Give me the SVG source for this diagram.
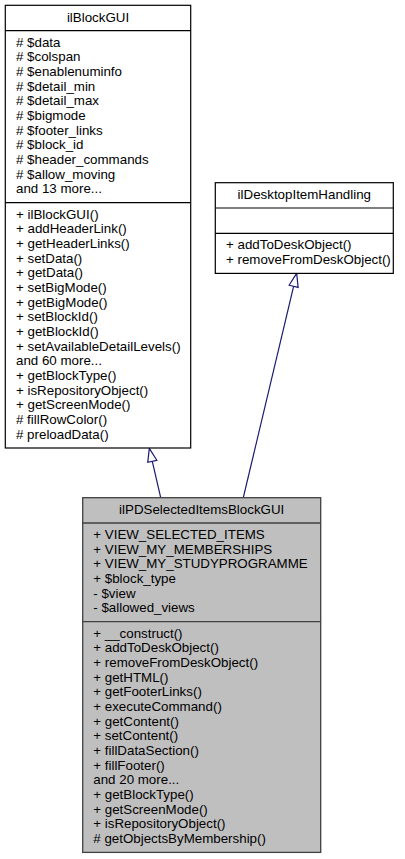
<svg xmlns="http://www.w3.org/2000/svg" width="405" height="859" viewBox="0 0 405 859">
<style>
  .box { fill: #ffffff; stroke: #000000; stroke-width: 1.2; }
  .cur { fill: #bfbfbf; stroke: #404040; stroke-width: 1.3; }
  .sep { stroke: #000000; stroke-width: 1.2; }
  .sepc { stroke: #404040; stroke-width: 1.3; }
  text { font-family: "Liberation Sans", Arial, Helvetica, sans-serif; font-size: 13.33px; fill: #000000; }
  .t { text-anchor: middle; }
  .edge { fill: none; stroke: #191970; stroke-width: 1.2; }
</style>
<defs>
  <marker id="inh" markerUnits="userSpaceOnUse" viewBox="0 0 13.33 9.33" refX="0" refY="4.67" markerWidth="13.33" markerHeight="9.33" orient="auto" overflow="visible">
    <path d="M0,0 L13.33,4.67 L0,9.33 Z" fill="#ffffff" stroke="#191970" stroke-width="1.2"/>
  </marker>
</defs>
<rect width="405" height="859" fill="#ffffff"/>
<g id="connectors">
  <path class="edge" d="M160.7,497.7 L152.3,461.3" marker-end="url(#inh)"/>
  <path class="edge" d="M243.3,497.7 L293.6,286.3" marker-end="url(#inh)"/>
</g>
<g id="ilBlockGUI">
  <rect class="box" x="5.3" y="5.3" width="185.4" height="442.7"/>
  <line class="sep" x1="5.3" y1="30.7" x2="190.7" y2="30.7"/>
  <line class="sep" x1="5.3" y1="202.7" x2="190.7" y2="202.7"/>
  <text class="t" x="98" y="21.7">ilBlockGUI</text>
  <text x="16">
    <tspan x="16" y="46.7"># $data</tspan>
    <tspan x="16" y="61.3"># $colspan</tspan>
    <tspan x="16" y="76.0"># $enablenuminfo</tspan>
    <tspan x="16" y="90.7"># $detail_min</tspan>
    <tspan x="16" y="105.3"># $detail_max</tspan>
    <tspan x="16" y="120.0"># $bigmode</tspan>
    <tspan x="16" y="134.7"># $footer_links</tspan>
    <tspan x="16" y="149.3"># $block_id</tspan>
    <tspan x="16" y="164.0"># $header_commands</tspan>
    <tspan x="16" y="178.7"># $allow_moving</tspan>
    <tspan x="16" y="193.3">and 13 more...</tspan>
  </text>
  <text x="16">
    <tspan x="16" y="218.7">+ ilBlockGUI()</tspan>
    <tspan x="16" y="233.3">+ addHeaderLink()</tspan>
    <tspan x="16" y="248.0">+ getHeaderLinks()</tspan>
    <tspan x="16" y="262.7">+ setData()</tspan>
    <tspan x="16" y="277.3">+ getData()</tspan>
    <tspan x="16" y="292.0">+ setBigMode()</tspan>
    <tspan x="16" y="306.7">+ getBigMode()</tspan>
    <tspan x="16" y="321.3">+ setBlockId()</tspan>
    <tspan x="16" y="336.0">+ getBlockId()</tspan>
    <tspan x="16" y="350.7">+ setAvailableDetailLevels()</tspan>
    <tspan x="16" y="365.3">and 60 more...</tspan>
    <tspan x="16" y="380.0">+ getBlockType()</tspan>
    <tspan x="16" y="394.7">+ isRepositoryObject()</tspan>
    <tspan x="16" y="409.3">+ getScreenMode()</tspan>
    <tspan x="16" y="424.0"># fillRowColor()</tspan>
    <tspan x="16" y="438.7"># preloadData()</tspan>
  </text>
</g>
<g id="ilDesktopItemHandling">
  <rect class="box" x="215.3" y="182.7" width="178" height="90.7"/>
  <line class="sep" x1="215.3" y1="208" x2="393.3" y2="208"/>
  <line class="sep" x1="215.3" y1="233.3" x2="393.3" y2="233.3"/>
  <text class="t" x="304.3" y="198.7">ilDesktopItemHandling</text>
  <text x="226">
    <tspan x="226" y="249.3">+ addToDeskObject()</tspan>
    <tspan x="226" y="264.0">+ removeFromDeskObject()</tspan>
  </text>
</g>
<g id="ilPDSelectedItemsBlockGUI">
  <rect class="cur" x="82.7" y="497.7" width="238" height="354.7"/>
  <line class="sepc" x1="82.7" y1="523" x2="320.7" y2="523"/>
  <line class="sepc" x1="82.7" y1="621.7" x2="320.7" y2="621.7"/>
  <text class="t" x="201.7" y="513.7">ilPDSelectedItemsBlockGUI</text>
  <text x="93.3">
    <tspan x="93.3" y="539.0">+ VIEW_SELECTED_ITEMS</tspan>
    <tspan x="93.3" y="553.7">+ VIEW_MY_MEMBERSHIPS</tspan>
    <tspan x="93.3" y="568.3">+ VIEW_MY_STUDYPROGRAMME</tspan>
    <tspan x="93.3" y="583.0">+ $block_type</tspan>
    <tspan x="93.3" y="597.7">- $view</tspan>
    <tspan x="93.3" y="612.3">- $allowed_views</tspan>
  </text>
  <text x="93.3">
    <tspan x="93.3" y="637.7">+ __construct()</tspan>
    <tspan x="93.3" y="652.3">+ addToDeskObject()</tspan>
    <tspan x="93.3" y="667.0">+ removeFromDeskObject()</tspan>
    <tspan x="93.3" y="681.7">+ getHTML()</tspan>
    <tspan x="93.3" y="696.3">+ getFooterLinks()</tspan>
    <tspan x="93.3" y="711.0">+ executeCommand()</tspan>
    <tspan x="93.3" y="725.7">+ getContent()</tspan>
    <tspan x="93.3" y="740.3">+ setContent()</tspan>
    <tspan x="93.3" y="755.0">+ fillDataSection()</tspan>
    <tspan x="93.3" y="769.7">+ fillFooter()</tspan>
    <tspan x="93.3" y="784.3">and 20 more...</tspan>
    <tspan x="93.3" y="799.0">+ getBlockType()</tspan>
    <tspan x="93.3" y="813.7">+ getScreenMode()</tspan>
    <tspan x="93.3" y="828.3">+ isRepositoryObject()</tspan>
    <tspan x="93.3" y="843.0"># getObjectsByMembership()</tspan>
  </text>
</g>
</svg>
